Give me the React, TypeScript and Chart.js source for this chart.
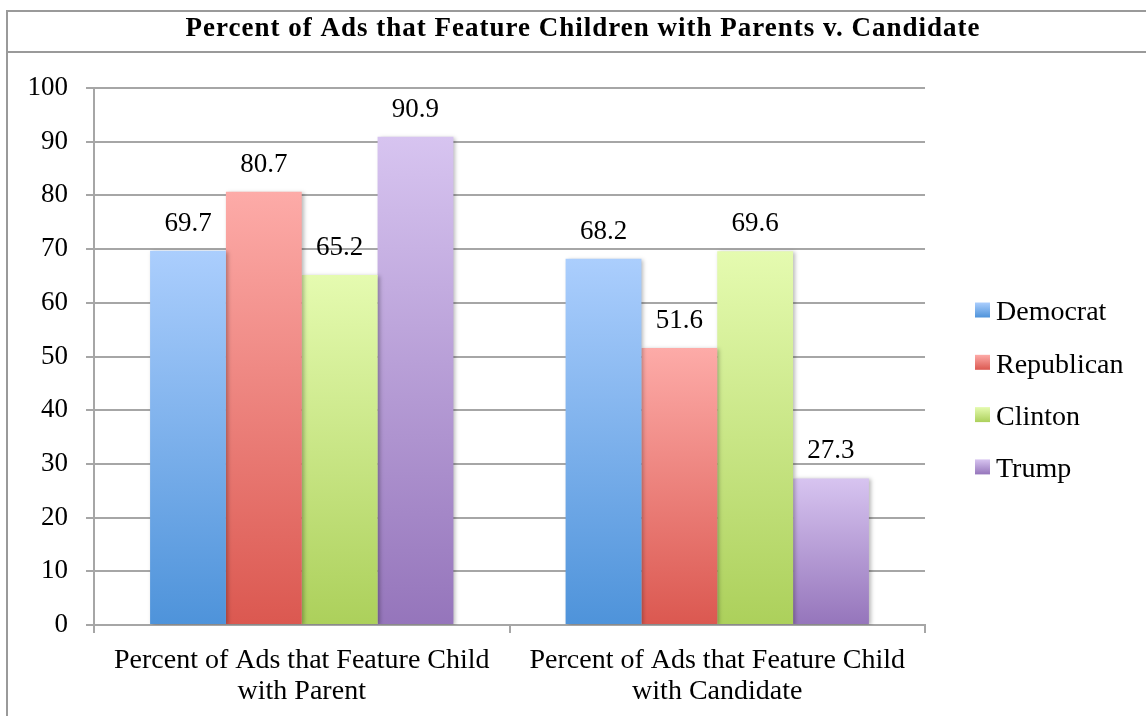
import React, { useEffect, useRef } from "react";
import { Chart, registerables } from "chart.js";

Chart.register(...registerables);

const chartTitle = "Percent of Ads that Feature Children with Parents v. Candidate";
const categories: string[][] = [
  ["Percent of Ads that Feature Child", "with Parent"],
  ["Percent of Ads that Feature Child", "with Candidate"],
];
const seriesNames = ["Democrat", "Republican", "Clinton", "Trump"];
const democrat = [69.7, 68.2];
const republican = [80.7, 51.6];
const clinton = [65.2, 69.6];
const trump = [90.9, 27.3];
const yMin = 0;
const yMax = 100;
const yStep = 10;

const colorsTop = ["#abcefd", "#fdaba8", "#e5fbb0", "#d7c4f0"];
const colorsBottom = ["#4e93da", "#db5850", "#acd05b", "#9575bb"];

const SERIF = '"Liberation Serif", "Times New Roman", serif';
const W = 1160;
const H = 740;

function barGradient(i: number) {
  return (ctx: any) => {
    const chart = ctx.chart;
    if (!chart.chartArea || ctx.type !== "data") return colorsBottom[i];
    const ys = chart.scales.y;
    const top = ys.getPixelForValue(ctx.raw as number);
    const bottom = ys.getPixelForValue(0);
    const g = chart.ctx.createLinearGradient(0, top, 0, bottom);
    g.addColorStop(0, colorsTop[i]);
    g.addColorStop(1, colorsBottom[i]);
    return g;
  };
}

const decorPlugin = {
  id: "decor",
  beforeDatasetsDraw(chart: any) {
    const c = chart.ctx;
    c.save();
    c.shadowColor = "rgba(0,0,0,0.28)";
    c.shadowBlur = 4;
    c.shadowOffsetX = 2;
    c.shadowOffsetY = 1;
  },
  afterDatasetsDraw(chart: any) {
    const c = chart.ctx;
    c.restore();
    c.save();
    c.font = `27px ${SERIF}`;
    c.fillStyle = "#000";
    c.textAlign = "center";
    c.textBaseline = "alphabetic";
    chart.data.datasets.forEach((ds: any, di: number) => {
      const meta = chart.getDatasetMeta(di);
      meta.data.forEach((bar: any, j: number) => {
        const v = ds.data[j];
        c.fillText(String(v), bar.x, bar.y - 20);
      });
    });
    c.restore();
  },
  afterDraw(chart: any) {
    const c = chart.ctx;
    c.save();
    // frame
    c.strokeStyle = "#9a9a9a";
    c.lineWidth = 2;
    c.strokeRect(7, 11, W + 40, H + 40);
    c.beginPath();
    c.moveTo(7, 52);
    c.lineTo(W + 40, 52);
    c.stroke();
    // title
    c.font = `bold 27px ${SERIF}`;
    c.fillStyle = "#000";
    c.textAlign = "center";
    c.textBaseline = "middle";
    (c as any).letterSpacing = "1px";
    c.fillText(chartTitle, 583, 29);
    (c as any).letterSpacing = "0px";
    // legend
    c.font = `28px ${SERIF}`;
    c.textAlign = "left";
    chart.data.datasets.forEach((ds: any, i: number) => {
      const cy = 310 + i * 52.3;
      const g = c.createLinearGradient(0, cy - 7.5, 0, cy + 7.5);
      g.addColorStop(0, colorsTop[i]);
      g.addColorStop(1, colorsBottom[i]);
      c.fillStyle = g;
      c.fillRect(975, cy - 7.5, 15, 15);
      c.fillStyle = "#000";
      c.fillText(ds.label, 996, cy + 3);
    });
    c.restore();
  },
};

export default function App() {
  const ref = useRef<HTMLCanvasElement | null>(null);
  useEffect(() => {
    if (!ref.current) return;
    const data = [democrat, republican, clinton, trump];
    const chart = new Chart(ref.current, {
      type: "bar",
      data: {
        labels: categories,
        datasets: seriesNames.map((name, i) => ({
          label: name,
          data: data[i],
          backgroundColor: barGradient(i),
          borderWidth: 0,
          categoryPercentage: 0.73,
          barPercentage: 1,
        })),
      },
      options: {
        responsive: false,
        animation: false,
        devicePixelRatio: 1,
        layout: { padding: { left: 10, right: W - 925, top: 88, bottom: 20 } },
        plugins: {
          legend: { display: false },
          title: { display: false },
          tooltip: { enabled: false },
        },
        scales: {
          x: {
            offset: true,
            grid: {
              offset: true,
              drawOnChartArea: false,
              drawTicks: true,
              tickLength: 8,
              color: "#a6a6a6",
              lineWidth: 2,
            },
            border: { color: "#a6a6a6", width: 2 },
            ticks: {
              color: "#000",
              font: { family: SERIF, size: 28, lineHeight: 1.12 },
              padding: 12,
              maxRotation: 0,
              autoSkip: false,
            },
            afterFit: (s: any) => {
              s.height = H - 20 - 625;
            },
          },
          y: {
            min: yMin,
            max: yMax,
            ticks: {
              stepSize: yStep,
              color: "#000",
              font: { family: SERIF, size: 27 },
              padding: 18,
            },
            grid: {
              color: "#a6a6a6",
              lineWidth: 2,
              drawTicks: true,
              tickLength: 8,
            },
            border: { color: "#a6a6a6", width: 2 },
            afterFit: (s: any) => {
              s.width = 94 - 10;
            },
          },
        },
      },
      plugins: [decorPlugin],
    });
    return () => chart.destroy();
  }, []);
  return (
    <div
      style={{
        position: "fixed",
        left: 0,
        top: 0,
        width: 1146,
        height: 716,
        overflow: "hidden",
        background: "#fff",
      }}
    >
      <canvas ref={ref} width={W} height={H} style={{ display: "block", width: W, height: H }} />
    </div>
  );
}
